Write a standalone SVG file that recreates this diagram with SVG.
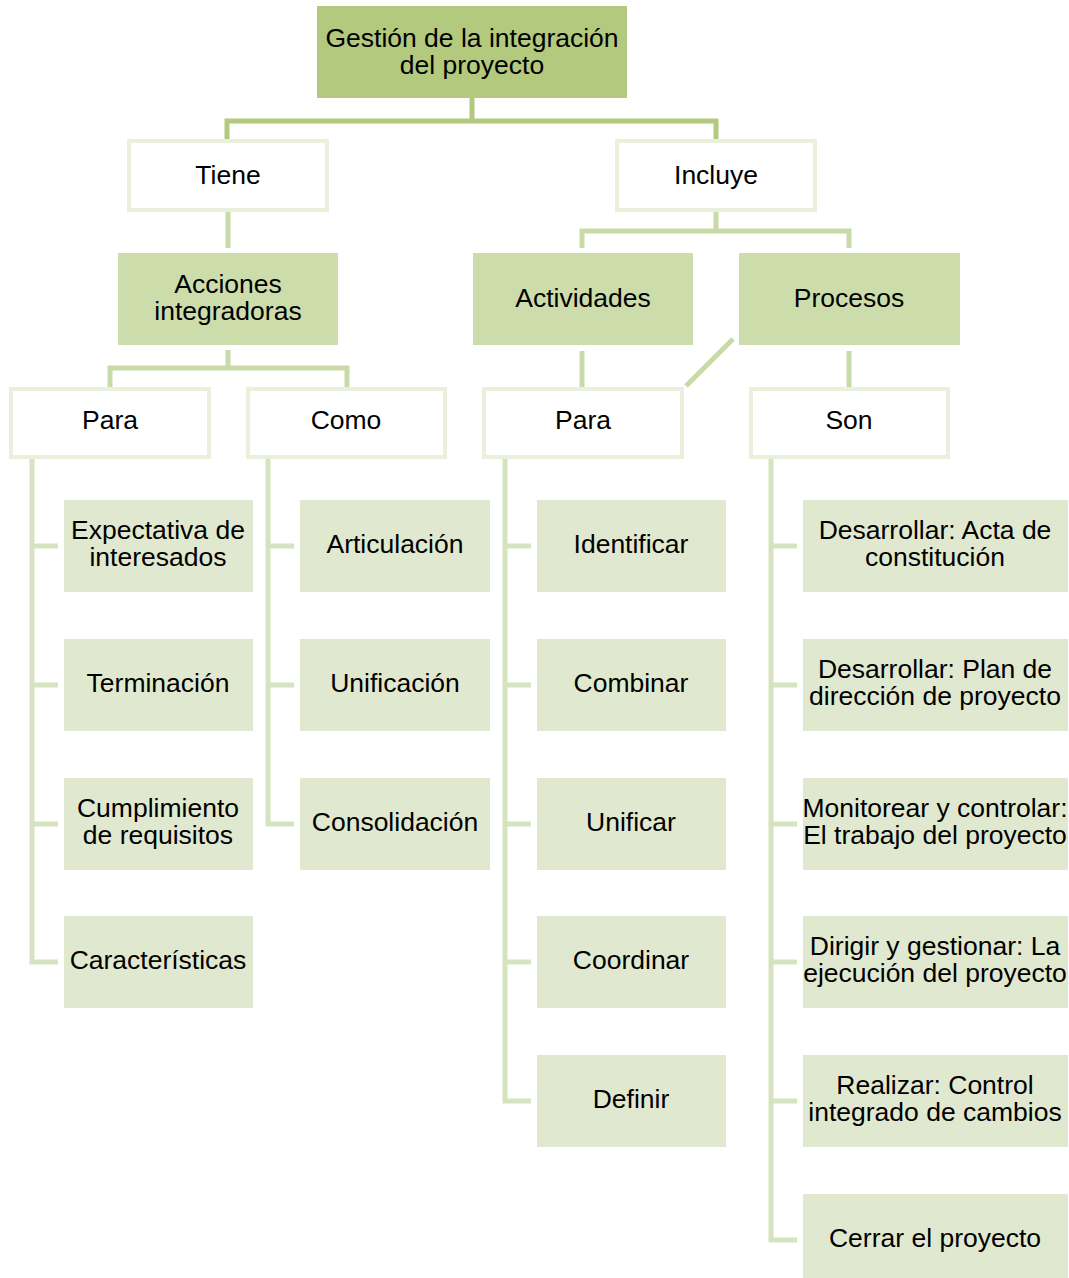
<svg xmlns="http://www.w3.org/2000/svg" width="1069" height="1278" viewBox="0 0 1069 1278">
  <style>
    text { font-family: "Liberation Sans", Arial, sans-serif; font-size: 26.5px; fill: #000; text-anchor: middle; }
    .root { fill: #b3c97d; }
    .mid { fill: #cddcab; }
    .leaf { fill: #e0e9cf; }
    .label { fill: #ffffff; stroke: #e9f0dc; stroke-width: 4; }
    .c1 { fill: none; stroke: #b3c97d; stroke-width: 5; }
    .c2 { fill: none; stroke: #c9daa9; stroke-width: 5; }
    .c3 { fill: none; stroke: #d6e3c0; stroke-width: 5; }
  </style>

  <!-- connectors -->
  <g id="connectors">
    <path class="c1" d="M472,98 V121 M227,140 V121 H716 V140"/>
    <path class="c2" d="M228,210 V248"/>
    <path class="c2" d="M716,210 V231 M582,248 V231 H849 V248"/>
    <path class="c2" d="M228,350 V368 M110,388 V368 H347 V388"/>
    <path class="c2" d="M582,351 V388 M849,351 V388 M733,339 L686,386"/>
    <!-- left "Para" list -->
    <path class="c3" d="M32,457 V962 H58 M32,546 H58 M32,685 H58 M32,824 H58"/>
    <!-- "Como" list -->
    <path class="c3" d="M268,457 V824 H294 M268,546 H294 M268,685 H294"/>
    <!-- activities "Para" list -->
    <path class="c3" d="M505,457 V1101 H531 M505,546 H531 M505,685 H531 M505,824 H531 M505,962 H531"/>
    <!-- "Son" list -->
    <path class="c3" d="M771,457 V1240 H797 M771,546 H797 M771,685 H797 M771,824 H797 M771,962 H797 M771,1101 H797"/>
  </g>

  <!-- top level -->
  <g id="n-root">
    <rect class="root" x="317" y="6" width="310" height="92"/>
    <text x="472" y="47">Gestión de la integración</text>
    <text x="472" y="74">del proyecto</text>
  </g>

  <!-- second level labels -->
  <g id="n-tiene">
    <rect class="label" x="129" y="141" width="198" height="69"/>
    <text x="228" y="184">Tiene</text>
  </g>
  <g id="n-incluye">
    <rect class="label" x="617" y="141" width="198" height="69"/>
    <text x="716" y="184">Incluye</text>
  </g>

  <!-- third level -->
  <g id="n-acciones">
    <rect class="mid" x="118" y="253" width="220" height="92"/>
    <text x="228" y="293">Acciones</text>
    <text x="228" y="320">integradoras</text>
  </g>
  <g id="n-actividades">
    <rect class="mid" x="473" y="253" width="220" height="92"/>
    <text x="583" y="307">Actividades</text>
  </g>
  <g id="n-procesos">
    <rect class="mid" x="739" y="253" width="221" height="92"/>
    <text x="849" y="307">Procesos</text>
  </g>

  <!-- fourth level labels -->
  <g id="n-para1">
    <rect class="label" x="11" y="389" width="198" height="68"/>
    <text x="110" y="429">Para</text>
  </g>
  <g id="n-como">
    <rect class="label" x="248" y="389" width="197" height="68"/>
    <text x="346" y="429">Como</text>
  </g>
  <g id="n-para2">
    <rect class="label" x="484" y="389" width="198" height="68"/>
    <text x="583" y="429">Para</text>
  </g>
  <g id="n-son">
    <rect class="label" x="751" y="389" width="197" height="68"/>
    <text x="849" y="429">Son</text>
  </g>

  <!-- leaves: Para (acciones) -->
  <g id="n-expectativa">
    <rect class="leaf" x="64" y="500" width="189" height="92"/>
    <text x="158" y="539">Expectativa de</text>
    <text x="158" y="566">interesados</text>
  </g>
  <g id="n-terminacion">
    <rect class="leaf" x="64" y="639" width="189" height="92"/>
    <text x="158" y="692">Terminación</text>
  </g>
  <g id="n-cumplimiento">
    <rect class="leaf" x="64" y="778" width="189" height="92"/>
    <text x="158" y="817">Cumplimiento</text>
    <text x="158" y="844">de requisitos</text>
  </g>
  <g id="n-caracteristicas">
    <rect class="leaf" x="64" y="916" width="189" height="92"/>
    <text x="158" y="969">Características</text>
  </g>

  <!-- leaves: Como -->
  <g id="n-articulacion">
    <rect class="leaf" x="300" y="500" width="190" height="92"/>
    <text x="395" y="553">Articulación</text>
  </g>
  <g id="n-unificacion">
    <rect class="leaf" x="300" y="639" width="190" height="92"/>
    <text x="395" y="692">Unificación</text>
  </g>
  <g id="n-consolidacion">
    <rect class="leaf" x="300" y="778" width="190" height="92"/>
    <text x="395" y="831">Consolidación</text>
  </g>

  <!-- leaves: Para (actividades) -->
  <g id="n-identificar">
    <rect class="leaf" x="537" y="500" width="189" height="92"/>
    <text x="631" y="553">Identificar</text>
  </g>
  <g id="n-combinar">
    <rect class="leaf" x="537" y="639" width="189" height="92"/>
    <text x="631" y="692">Combinar</text>
  </g>
  <g id="n-unificar">
    <rect class="leaf" x="537" y="778" width="189" height="92"/>
    <text x="631" y="831">Unificar</text>
  </g>
  <g id="n-coordinar">
    <rect class="leaf" x="537" y="916" width="189" height="92"/>
    <text x="631" y="969">Coordinar</text>
  </g>
  <g id="n-definir">
    <rect class="leaf" x="537" y="1055" width="189" height="92"/>
    <text x="631" y="1108">Definir</text>
  </g>

  <!-- leaves: Son -->
  <g id="n-acta">
    <rect class="leaf" x="803" y="500" width="265" height="92"/>
    <text x="935" y="539">Desarrollar: Acta de</text>
    <text x="935" y="566">constitución</text>
  </g>
  <g id="n-plan">
    <rect class="leaf" x="803" y="639" width="265" height="92"/>
    <text x="935" y="678">Desarrollar: Plan de</text>
    <text x="935" y="705">dirección de proyecto</text>
  </g>
  <g id="n-monitorear">
    <rect class="leaf" x="803" y="778" width="265" height="92"/>
    <text x="935" y="817">Monitorear y controlar:</text>
    <text x="935" y="844">El trabajo del proyecto</text>
  </g>
  <g id="n-dirigir">
    <rect class="leaf" x="803" y="916" width="265" height="92"/>
    <text x="935" y="955">Dirigir y gestionar: La</text>
    <text x="935" y="982">ejecución del proyecto</text>
  </g>
  <g id="n-realizar">
    <rect class="leaf" x="803" y="1055" width="265" height="92"/>
    <text x="935" y="1094">Realizar: Control</text>
    <text x="935" y="1121">integrado de cambios</text>
  </g>
  <g id="n-cerrar">
    <rect class="leaf" x="803" y="1194" width="265" height="84"/>
    <text x="935" y="1247">Cerrar el proyecto</text>
  </g>
</svg>
